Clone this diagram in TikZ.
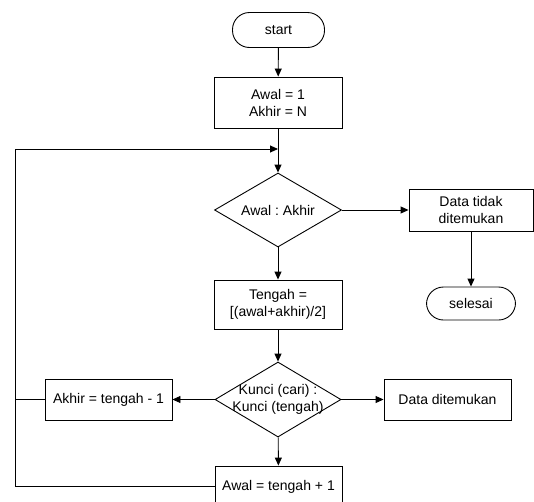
\documentclass[tikz,border=0pt]{standalone}
\usepackage{fontspec}
\setmainfont{Liberation Sans}
\usetikzlibrary{shapes.geometric,arrows.meta}
\frenchspacing

\begin{document}
\begin{tikzpicture}[
  x=1pt, y=-1pt,
  every node/.style={font=\fontsize{14}{17}\selectfont, align=center, line width=0.9pt},
  terminal/.style={draw, rectangle, rounded corners=17pt, inner sep=0pt},
  procbox/.style={draw, rectangle, inner sep=0pt},
  decision/.style={draw, diamond, inner sep=0pt},
  flow/.style={draw, line width=0.9pt, -{Triangle[length=8pt,width=7pt]}},
  link/.style={draw, line width=0.9pt}
]
\useasboundingbox (0,0) rectangle (534,501);
\clip (0,0) rectangle (534,501);

% main column
\node[terminal, minimum width=92pt, minimum height=35pt] (start) at (278.5,30) {start};
\node[procbox, minimum width=128pt, minimum height=51pt] (init) at (278,102.5) {Awal = 1\\Akhir = N};
\node[decision, minimum width=127pt, minimum height=74pt,
      label={[font=\fontsize{14}{17}\selectfont]center:Awal : Akhir}] (cmp) at (278,210) {};
\node[procbox, minimum width=128pt, minimum height=49pt] (mid) at (278,304.5) {Tengah =\\{[}(awal+akhir)/2{]}};
\node[decision, minimum width=126pt, minimum height=75pt,
      label={[font=\fontsize{14}{17}\selectfont, align=center]center:Kunci (cari) :\\Kunci (tengah)}] (key) at (278,399.5) {};
\node[procbox, minimum width=127pt, minimum height=41pt] (lower) at (278.5,486.5) {Awal = tengah + 1};

% side boxes
\node[procbox, minimum width=127pt, minimum height=41pt] (upper) at (108.5,399.5) {Akhir = tengah - 1};
\node[procbox, minimum width=127pt, minimum height=41pt] (found) at (447.5,399.5) {Data ditemukan};
\node[procbox, minimum width=124pt, minimum height=42pt] (notfound) at (471,210) {Data tidak\\ditemukan};
\node[terminal, minimum width=89pt, minimum height=33pt] (stop) at (471,303.5) {selesai};

% loop-back corners
\coordinate (loopTop) at (15,149);
\coordinate (merge) at (278,149);

% connectors
\draw[flow] (start) -- (init);
\draw[flow] (init) -- (cmp);
\draw[flow] (cmp) -- (notfound);
\draw[flow] (notfound) -- (stop);
\draw[flow] (cmp) -- (mid);
\draw[flow] (mid) -- (key);
\draw[flow] (key) -- (upper);
\draw[flow] (key) -- (found);
\draw[flow] (key) -- (lower);
\draw[flow] (lower.west) -- (lower.west -| loopTop) -- (loopTop) -- (merge);
\draw[link] (upper.west) -- (upper.west -| loopTop);
\end{tikzpicture}
\end{document}
